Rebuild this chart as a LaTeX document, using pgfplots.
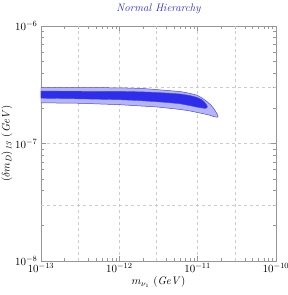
\documentclass[border=0pt]{standalone}
\usepackage{pgfplots}
\pgfplotsset{compat=1.18}
\definecolor{lightband}{RGB}{182,182,245}
\definecolor{edgeblue}{RGB}{70,70,235}
\definecolor{darkband}{RGB}{45,45,235}
\definecolor{titleblue}{RGB}{40,40,230}
\definecolor{framegray}{RGB}{150,150,150}
\newcommand\elf{\fontsize{11}{13}\selectfont}
\begin{document}
\begin{tikzpicture}
\begin{axis}[
  at={(41bp,34bp)}, anchor=south west,
  scale only axis, width=235bp, height=235bp,
  xmode=log, ymode=log,
  xmin=1e-13, xmax=1e-10, ymin=1e-8, ymax=1e-6,
  xtick={1e-13,1e-12,1e-11,1e-10},
  ytick={1e-8,1e-7,1e-6},
  axis line style={framegray},
  every tick/.style={framegray},
  major tick length=5bp, minor tick length=3bp,
  tick align=inside,
  tick label style={font=\elf},
  xticklabel style={yshift=1bp},
  xmajorgrids=true, ymajorgrids=true,
  grid style={dashed, gray!40},
  extra x ticks={3e-13,3e-12,3e-11},
  extra y ticks={3e-8,3e-7},
  extra tick style={grid=major, major tick length=0pt, tick label style={opacity=0}},
  extra x tick labels={}, extra y tick labels={},
  title={\textcolor{titleblue}{\itshape Normal Hierarchy}},
  title style={font=\elf, yshift=3bp},
  xlabel={$m_{\nu_1}\ (\mathit{GeV})$},
  xlabel style={font=\elf, yshift=3bp},
  ylabel={$(\delta m_D)_{\mathit{13}}\ (\mathit{GeV})$},
  ylabel style={font=\elf, yshift=-4bp},
]
\addplot[fill=lightband, draw=edgeblue, line width=0.5pt] coordinates {
(1e-13,2.99e-7) (3.15e-13,2.99e-7) (1.02e-12,2.98e-7) (2.0e-12,2.94e-7) (2.94e-12,2.88e-7)
(4.3e-12,2.82e-7) (5.96e-12,2.77e-7) (8.0e-12,2.67e-7) (9.8e-12,2.58e-7) (1.15e-11,2.43e-7)
(1.32e-11,2.27e-7) (1.48e-11,2.12e-7) (1.60e-11,1.99e-7) (1.70e-11,1.87e-7) (1.78e-11,1.77e-7)
(1.82e-11,1.71e-7) (1.80e-11,1.68e-7) (1.72e-11,1.68e-7) (1.58e-11,1.70e-7) (1.44e-11,1.74e-7)
(1.2e-11,1.79e-7) (9.8e-12,1.84e-7) (7.8e-12,1.90e-7) (5.96e-12,1.95e-7) (4.2e-12,2.00e-7)
(2.94e-12,2.05e-7) (1.8e-12,2.09e-7) (1.02e-12,2.14e-7) (3.15e-13,2.20e-7) (1e-13,2.22e-7)
} -- cycle;
\addplot[fill=darkband, draw=edgeblue, line width=0.4pt] coordinates {
(1e-13,2.79e-7) (1.02e-12,2.78e-7) (2.0e-12,2.75e-7) (2.94e-12,2.72e-7) (4.3e-12,2.68e-7)
(5.96e-12,2.64e-7) (8.0e-12,2.56e-7) (9.8e-12,2.47e-7) (1.12e-11,2.37e-7) (1.22e-11,2.26e-7)
(1.29e-11,2.15e-7) (1.33e-11,2.06e-7) (1.31e-11,2.01e-7) (1.24e-11,1.99e-7) (1.12e-11,2.01e-7)
(9.8e-12,2.04e-7) (8.0e-12,2.10e-7) (5.96e-12,2.18e-7) (4.2e-12,2.23e-7) (2.94e-12,2.27e-7)
(1.8e-12,2.32e-7) (1.02e-12,2.36e-7) (3.15e-13,2.40e-7) (1e-13,2.43e-7)
} -- cycle;
\end{axis}
\pgfresetboundingbox
\path[use as bounding box] (0,0) rectangle (288bp,295bp);
\end{tikzpicture}
\end{document}
